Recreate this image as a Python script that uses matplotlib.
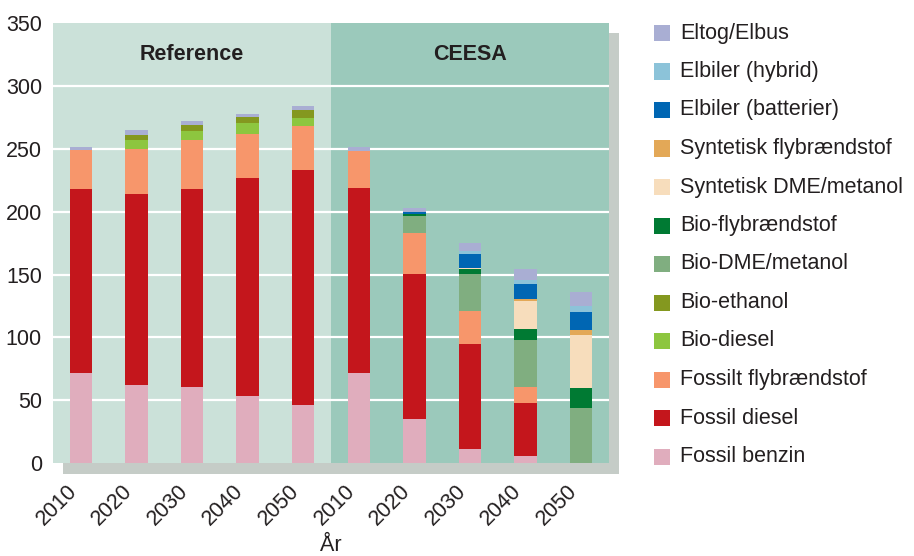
import numpy as np
import matplotlib
matplotlib.use("Agg")
import matplotlib.pyplot as plt
import matplotlib.transforms as mtransforms
from matplotlib.patches import Rectangle

plt.rcParams['font.family'] = ['Liberation Sans', 'DejaVu Sans']

# x-axis: 5 years for each scenario
years = ['2010', '2020', '2030', '2040', '2050']
scenarios = ['Reference', 'CEESA']
tick_labels = years + years

# stacked series, bottom to top (Reference 2010-2050, CEESA 2010-2050)
fossil_benzin = [71.7, 62.1, 60.5, 53.3, 46.2, 71.7, 35.0, 11.1, 5.6, 0]
fossil_diesel = [146.5, 152.1, 157.7, 173.6, 187.1, 147.3, 115.5, 83.6, 42.2, 0]
fossilt_fly = [31.2, 35.8, 39.0, 35.0, 35.0, 29.4, 32.6, 26.3, 12.7, 0]
bio_diesel = [0, 7.2, 7.1, 8.8, 6.4, 0, 0, 0, 0, 0]
bio_ethanol = [0, 3.9, 4.8, 4.8, 6.4, 0, 0, 0, 0, 0]
bio_dme = [0, 0, 0, 0, 0, 0, 13.6, 29.5, 37.6, 43.8]
bio_fly = [0, 0, 0, 0, 0, 0, 1.8, 3.7, 8.8, 15.9]
synt_dme = [0, 0, 0, 0, 0, 0, 0, 1.0, 22.3, 42.2]
synt_fly = [0, 0, 0, 0, 0, 0, 0, 0, 1.6, 4.0]
elbiler_batt = [0, 0, 0, 0, 0, 0, 1.5, 11.1, 11.9, 14.3]
elbiler_hybrid = [0, 0, 0, 0, 0, 0, 0, 2.8, 3.2, 4.8]
eltog = [2.2, 4.0, 3.2, 2.4, 3.1, 3.4, 3.0, 6.0, 8.8, 11.1]

series = [
    ('Fossil benzin', fossil_benzin, '#e0adbd'),
    ('Fossil diesel', fossil_diesel, '#c4161c'),
    ('Fossilt flybrændstof', fossilt_fly, '#f7966b'),
    ('Bio-diesel', bio_diesel, '#8dc63f'),
    ('Bio-ethanol', bio_ethanol, '#84981f'),
    ('Bio-DME/metanol', bio_dme, '#80ae80'),
    ('Bio-flybrændstof', bio_fly, '#007a33'),
    ('Syntetisk DME/metanol', synt_dme, '#f7ddbc'),
    ('Syntetisk flybrændstof', synt_fly, '#e3a857'),
    ('Elbiler (batterier)', elbiler_batt, '#0066b3'),
    ('Elbiler (hybrid)', elbiler_hybrid, '#8cc3d9'),
    ('Eltog/Elbus', eltog, '#a9aed3'),
]

text_col = '#231f20'
fs = 15.5

fig = plt.figure(figsize=(9.14, 5.56), dpi=100)

# grey drop shadow behind the plot area
fig.add_artist(Rectangle((63 / 914, 1 - 474 / 556), 556 / 914, 441 / 556,
                         transform=fig.transFigure, color='#c5ccc7',
                         zorder=-5, lw=0))

ax = fig.add_axes([53 / 914, 1 - 463 / 556, 556 / 914, (463 - 23.4) / 556])
ax.set_facecolor('none')

x = np.arange(len(tick_labels))
ax.axvspan(-0.5, 4.5, color='#cbe1d9', zorder=0, lw=0)
ax.axvspan(4.5, 9.5, color='#9bc9bb', zorder=0, lw=0)
for yv in range(50, 301, 50):
    ax.axhline(yv, color='white', lw=1.6, zorder=1)

bottom = np.zeros(len(x))
for name, vals, col in series:
    vals = np.array(vals, dtype=float)
    ax.bar(x, vals, width=0.4, bottom=bottom, color=col, lw=0, zorder=2)
    bottom += vals

ax.text(2, 325, scenarios[0], ha='center', va='center', fontsize=fs,
        fontweight='bold', color=text_col)
ax.text(7, 325, scenarios[1], ha='center', va='center', fontsize=fs,
        fontweight='bold', color=text_col)

ax.set_xlim(-0.5, 9.5)
ax.set_ylim(0, 350)
ax.set_yticks(range(0, 351, 50))
ax.set_xticks(x)
ax.set_xticklabels(tick_labels, rotation=45, ha='right', va='center',
                   rotation_mode='anchor')
ax.tick_params(axis='both', length=0, labelsize=fs, colors=text_col)
ax.tick_params(axis='y', pad=8)
ax.tick_params(axis='x', pad=18)
shift = mtransforms.ScaledTranslation(-7 / 100, 0, fig.dpi_scale_trans)
for lab in ax.get_xticklabels():
    lab.set_transform(lab.get_transform() + shift)
for s in ax.spines.values():
    s.set_visible(False)
ax.set_xlabel('År', fontsize=fs, color=text_col, labelpad=4)

# legend, top entry first
for i, (name, vals, col) in enumerate(series[::-1]):
    yc = 1 - (33 + i * 38.5) / 556
    fig.add_artist(Rectangle((654 / 914, yc - 8 / 556), 16 / 914, 16 / 556,
                             transform=fig.transFigure, color=col, lw=0))
    fig.text(680 / 914, yc, name, ha='left', va='center', fontsize=fs,
             color=text_col)

fig.savefig('out.png', dpi=100)
